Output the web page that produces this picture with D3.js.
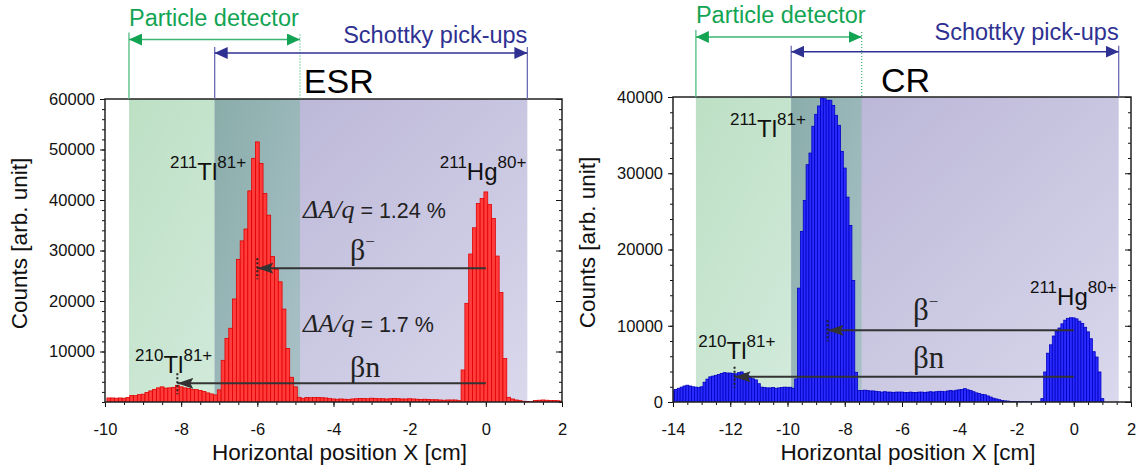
<!DOCTYPE html>
<html>
<head>
<meta charset="utf-8">
<script src="https://cdn.jsdelivr.net/npm/d3@7"></script>
<style>
body { margin: 0; background: #fff; }
svg text { font-family: "Liberation Sans", Arial, sans-serif; }
</style>
</head>
<body>
<div id="chart"></div>
<script>
// position spectra, 0.1 cm bins, counts
var binWidth = 0.1;

var esrFirstBin = -9.9;
var esrCounts = [
    800, 800, 750, 800, 750, 900, 1300, 1250, 1450, 1550,
    1900, 2200, 2500, 2800, 3000, 2750, 2800, 2900, 3300, 3000,
    2800, 2700, 2500, 2450, 2300, 2100, 1800, 1600, 1400, 2400,
    8250, 12600, 14600, 20400, 28250, 31900, 34250, 41800, 48250, 51500,
    47250, 41300, 37000, 28800, 26250, 23800, 18400, 10600, 4900, 3000,
    930, 730, 900, 850, 880, 900, 850, 800, 700, 600,
    550, 600, 550, 500, 600, 650, 700, 700, 650, 750,
    700, 650, 650, 600, 650, 700, 650, 600, 600, 650,
    600, 550, 500, 550, 500, 450, 450, 400, 350, 400,
    400, 400, 260, 6340, 19540, 29300, 34500, 39300, 40300, 41600,
    39100, 36350, 28900, 21700, 8600, 930, 600, 400, 260, 140,
    80, 60, 300, 350, 400, 350, 300, 300, 250, 150
];

var crFirstBin = -14.0;
var crCounts = [
    1500, 1650, 1800, 1950, 2100, 2200, 2100, 2000, 1950, 1900,
    2000, 2600, 3000, 3300, 3400, 3500, 3600, 3750, 3850, 3800,
    3800, 3750, 3700, 3850, 3950, 3700, 3500, 3200, 3050, 2900,
    2400, 1950, 1900, 1850, 1850, 1900, 1800, 1850, 1900, 1950,
    1930, 1930, 1800, 3020, 14930, 22370, 26440, 31120, 32650, 36160,
    37730, 38820, 39870, 39780, 39570, 39570, 38900, 37600, 36290, 32870,
    30680, 26870, 23160, 15940, 3900, 1500, 1500, 1550, 1500, 1450,
    1450, 1400, 1350, 1300, 1350, 1300, 1300, 1250, 1300, 1300,
    1300, 1250, 1250, 1300, 1250, 1250, 1300, 1300, 1250, 1300,
    1350, 1300, 1350, 1400, 1400, 1350, 1450, 1500, 1450, 1550,
    1600, 1650, 1750, 1600, 1500, 1350, 1200, 1100, 1000, 950,
    800, 650, 500, 400, 300, 200, 150, 120, 80, 60,
    40, 30, 30, 25, 25, 20, 20, 20, 30, 440,
    3940, 6400, 7500, 8650, 9250, 9700, 10250, 10730, 10970, 11050,
    11030, 10900, 10600, 10300, 9800, 9200, 8300, 6600, 5900, 3940,
    440
];

var esrXTicks = [-10, -8, -6, -4, -2, 0, 2];
var esrYTicks = [10000, 20000, 30000, 40000, 50000, 60000];
var crXTicks = [-14, -12, -10, -8, -6, -4, -2, 0, 2];
var crYTicks = [0, 10000, 20000, 30000, 40000];

// detector acceptance ranges [cm]
var esrDetector = [-9.37, -4.88];
var esrSchottky = [-7.12, 1.09];
var crDetector = [-13.2, -7.41];
var crSchottky = [-9.87, 1.57];

var svg = d3.select('#chart')
    .append('svg')
    .attr('width', 1142)
    .attr('height', 465);

var defs = svg.append('defs');

function addGradient(id, from, to) {
    var lg = defs.append('linearGradient').attr('id', id)
        .attr('x1', 0).attr('y1', 0).attr('x2', 1).attr('y2', 1);
    lg.append('stop').attr('offset', 0).attr('stop-color', from);
    lg.append('stop').attr('offset', 1).attr('stop-color', to);
}
addGradient('gradDetector', '#bde0c4', '#d8ede2');
addGradient('gradSchottky', '#b8b3d5', '#d9d8ec');
addGradient('gradBoth', '#8aadaa', '#a9c1c8');

function addMarker(id, color, len, h, notch) {
    defs.append('marker').attr('id', id)
        .attr('markerUnits', 'userSpaceOnUse')
        .attr('viewBox', '0 0 ' + len + ' ' + h)
        .attr('markerWidth', len).attr('markerHeight', h)
        .attr('refX', len).attr('refY', h / 2)
        .attr('orient', 'auto-start-reverse')
        .append('path')
        .attr('d', 'M0,0 L' + len + ',' + (h / 2) + ' L0,' + h + ' L' + notch + ',' + (h / 2) + ' Z')
        .attr('fill', color);
}
addMarker('headGreen', '#12a453', 13, 12, 0);
addMarker('headNavy', '#2e3192', 13, 12, 0);
addMarker('headDark', '#333', 16, 11, 3);

var green = '#12a453';
var navy = '#2e3192';
var serif = '"Liberation Serif", "Times New Roman", serif';

function isotope(g, px, py, mass, sym, charge) {
    var t = g.append('text').attr('x', px).attr('y', py).attr('fill', '#111');
    t.append('tspan').attr('font-size', 17).attr('dy', -12).text(mass);
    t.append('tspan').attr('font-size', 24).attr('dy', 12).text(sym);
    t.append('tspan').attr('font-size', 17).attr('dy', -12).text(charge);
}

function beta(g, px, py, size, suffix) {
    var t = g.append('text').attr('x', px).attr('y', py)
        .attr('font-size', size).attr('fill', '#222')
        .style('font-family', serif);
    t.append('tspan').text('β');
    if (suffix === '-') {
        t.append('tspan').attr('font-size', 17).attr('dy', -13).text('−');
    } else {
        t.append('tspan').text(suffix);
    }
}

function deltaLabel(g, px, py, value) {
    var t = g.append('text').attr('x', px).attr('y', py)
        .attr('font-size', 21.5).attr('fill', '#222').style('white-space', 'pre');
    t.append('tspan')
        .style('font-family', serif)
        .attr('font-style', 'italic').attr('font-size', 26).text('ΔA/q');
    t.append('tspan').text(' = ' + value + ' %');
}

function drawPanel(p) {
    var x = d3.scaleLinear().domain(p.xDomain).range([p.left, p.right]);
    var y = d3.scaleLinear().domain(p.yDomain).range([p.bottom, p.top]);
    var h = p.bottom - p.top;

    defs.append('clipPath').attr('id', 'clip-' + p.name)
        .append('rect').attr('x', p.left).attr('y', p.top)
        .attr('width', p.right - p.left).attr('height', h);

    var g = svg.append('g');
    var plot = g.append('g').attr('clip-path', 'url(#clip-' + p.name + ')');

    // shaded acceptance regions
    plot.append('rect')
        .attr('x', x(p.detector[0])).attr('width', x(p.detector[1]) - x(p.detector[0]))
        .attr('y', p.top).attr('height', h).attr('fill', 'url(#gradDetector)');
    plot.append('rect')
        .attr('x', x(p.schottky[0])).attr('width', x(p.schottky[1]) - x(p.schottky[0]))
        .attr('y', p.top).attr('height', h).attr('fill', 'url(#gradSchottky)');
    plot.append('rect')
        .attr('x', x(p.schottky[0])).attr('width', x(p.detector[1]) - x(p.schottky[0]))
        .attr('y', p.top).attr('height', h).attr('fill', 'url(#gradBoth)');

    // histogram
    var bins = p.counts.map((c, i) => ({ x: p.firstBin + i * binWidth, c: c }));
    plot.selectAll('rect.bar')
        .data(bins)
        .enter()
        .append('rect')
        .attr('class', 'bar')
        .attr('x', (d) => x(d.x - binWidth / 2))
        .attr('width', x(binWidth) - x(0))
        .attr('y', (d) => y(d.c))
        .attr('height', (d) => y(0) - y(d.c))
        .attr('fill', p.fill)
        .attr('stroke', p.stroke)
        .attr('stroke-width', 0.8);

    // axes
    var fmt = (d) => String(d);
    var xMinor = g.append('g').attr('transform', 'translate(0,' + p.bottom + ')')
        .call(d3.axisBottom(x).ticks(p.xMinor).tickSize(3).tickFormat(''));
    var xMajor = g.append('g').attr('transform', 'translate(0,' + p.bottom + ')')
        .call(d3.axisBottom(x).tickValues(p.xTicks).tickSize(5).tickPadding(16).tickFormat(fmt));
    var yMinor = g.append('g').attr('transform', 'translate(' + p.left + ',0)')
        .call(d3.axisLeft(y).ticks(p.yMinor).tickSize(3).tickFormat(''));
    var yMajor = g.append('g').attr('transform', 'translate(' + p.left + ',0)')
        .call(d3.axisLeft(y).tickValues(p.yTicks).tickSize(5).tickPadding(5).tickFormat(fmt));
    var rMinor = g.append('g').attr('transform', 'translate(' + p.right + ',0)')
        .call(d3.axisLeft(y).ticks(p.yMinor).tickSize(3).tickFormat(''));
    var rMajor = g.append('g').attr('transform', 'translate(' + p.right + ',0)')
        .call(d3.axisLeft(y).tickValues(p.yTicks).tickSize(6).tickFormat(''));

    [xMinor, xMajor, yMinor, yMajor, rMinor, rMajor].forEach((a) => {
        a.select('.domain').remove();
        a.selectAll('line').attr('stroke', '#111');
        a.selectAll('text').attr('font-size', 16.5).attr('fill', '#111')
            .attr('font-family', '"Liberation Sans", Arial, sans-serif');
    });

    g.append('rect')
        .attr('x', p.left).attr('y', p.top)
        .attr('width', p.right - p.left).attr('height', h)
        .attr('fill', 'none').attr('stroke', '#222').attr('stroke-width', 1.5);

    // axis titles
    g.append('text')
        .attr('transform', 'translate(' + (p.left - 78) + ',' + (p.top + h / 2 - 7) + ') rotate(-90)')
        .attr('text-anchor', 'middle').attr('font-size', 22.5).attr('fill', '#111')
        .text('Counts [arb. unit]');
    g.append('text')
        .attr('x', (p.left + p.right) / 2 + 6).attr('y', 460)
        .attr('text-anchor', 'middle').attr('font-size', 22.5).attr('fill', '#111')
        .text('Horizontal position X [cm]');

    // acceptance markers above the frame
    var d0 = x(p.detector[0]), d1 = x(p.detector[1]);
    var s0 = x(p.schottky[0]), s1 = x(p.schottky[1]);
    g.append('line').attr('x1', d0).attr('x2', d0).attr('y1', p.detArrowY - 7).attr('y2', p.top)
        .attr('stroke', '#4dbb7c').attr('stroke-width', 1.3);
    g.append('line').attr('x1', d1).attr('x2', d1).attr('y1', p.detArrowY - 5).attr('y2', p.top)
        .attr('stroke', '#4dbb7c').attr('stroke-width', 1.3).attr('stroke-dasharray', '1,2');
    g.append('line').attr('x1', d0).attr('x2', d1).attr('y1', p.detArrowY).attr('y2', p.detArrowY)
        .attr('stroke', '#3cb574').attr('stroke-width', 1.5)
        .attr('marker-start', 'url(#headGreen)').attr('marker-end', 'url(#headGreen)');
    g.append('text').attr('x', d0).attr('y', p.detTextY)
        .attr('font-size', 23.5).attr('fill', green).text('Particle detector');

    [s0, s1].forEach((sx) => {
        g.append('line').attr('x1', sx).attr('x2', sx).attr('y1', p.schArrowY - 6).attr('y2', p.top)
            .attr('stroke', '#6b6bb3').attr('stroke-width', 1.3);
    });
    g.append('line').attr('x1', s0).attr('x2', s1).attr('y1', p.schArrowY).attr('y2', p.schArrowY)
        .attr('stroke', navy).attr('stroke-width', 1.5)
        .attr('marker-start', 'url(#headNavy)').attr('marker-end', 'url(#headNavy)');
    g.append('text').attr('x', s1).attr('y', p.schTextY).attr('text-anchor', 'end')
        .attr('font-size', 23.5).attr('fill', navy).text('Schottky pick-ups');

    g.append('text').attr('x', x(p.titleAt)).attr('y', p.titleY)
        .attr('text-anchor', 'middle').attr('font-size', 34).attr('fill', '#000')
        .text(p.name);

    // decay arrows
    p.arrows.forEach((a) => {
        g.append('line').attr('x1', x(0)).attr('x2', x(a.to))
            .attr('y1', y(a.level)).attr('y2', y(a.level))
            .attr('stroke', '#333').attr('stroke-width', 2)
            .attr('marker-end', 'url(#headDark)');
        g.append('line').attr('x1', x(a.to)).attr('x2', x(a.to))
            .attr('y1', y(a.level) - 10).attr('y2', y(a.level) + 11)
            .attr('stroke', '#222').attr('stroke-width', 2).attr('stroke-dasharray', '2,2');
    });

    p.isotopes.forEach((s) => isotope(g, x(s.at[0]), y(s.at[1]), s.mass, s.sym, s.charge));
    p.betas.forEach((b) => beta(g, x(b.at[0]), y(b.at[1]), p.betaSize, b.kind));
    p.deltas.forEach((d) => deltaLabel(g, x(d.at[0]), y(d.at[1]), d.value));
}

drawPanel({
    name: 'ESR',
    left: 105, right: 562, top: 99, bottom: 402,
    xDomain: [-10, 2], yDomain: [0, 60000],
    xTicks: esrXTicks, yTicks: esrYTicks, xMinor: 24, yMinor: 30,
    firstBin: esrFirstBin, counts: esrCounts,
    fill: '#ff3c3c', stroke: '#e00000',
    detector: esrDetector, schottky: esrSchottky,
    detArrowY: 39.5, detTextY: 25.5, schArrowY: 53, schTextY: 43,
    titleAt: -3.86, titleY: 93,
    arrows: [{ to: -6.0, level: 26500 }, { to: -8.1, level: 3700 }],
    isotopes: [
        { at: [-8.29, 44000], mass: '211', sym: 'Tl', charge: '81+' },
        { at: [-1.21, 44000], mass: '211', sym: 'Hg', charge: '80+' },
        { at: [-9.21, 5800], mass: '210', sym: 'Tl', charge: '81+' }
    ],
    betaSize: 30,
    betas: [{ at: [-3.57, 28100], kind: '-' }, { at: [-3.57, 4950], kind: 'n' }],
    deltas: [{ at: [-4.8, 36400], value: '1.24' }, { at: [-4.8, 13900], value: '1.7' }]
});

drawPanel({
    name: 'CR',
    left: 673, right: 1131, top: 97, bottom: 402,
    xDomain: [-14, 2], yDomain: [0, 40000],
    xTicks: crXTicks, yTicks: crYTicks, xMinor: 32, yMinor: 20,
    firstBin: crFirstBin, counts: crCounts,
    fill: '#2b2bff', stroke: '#0000c0',
    detector: crDetector, schottky: crSchottky,
    detArrowY: 37, detTextY: 22.7, schArrowY: 51.7, schTextY: 40.3,
    titleAt: -5.88, titleY: 91.7,
    arrows: [{ to: -8.6, level: 9400 }, { to: -11.85, level: 3300 }],
    isotopes: [
        { at: [-12.01, 34800], mass: '211', sym: 'Tl', charge: '81+' },
        { at: [-1.53, 12700], mass: '211', sym: 'Hg', charge: '80+' },
        { at: [-13.12, 5700], mass: '210', sym: 'Tl', charge: '81+' }
    ],
    betaSize: 31,
    betas: [{ at: [-5.62, 10800], kind: '-' }, { at: [-5.62, 4420], kind: 'n' }],
    deltas: []
});
</script>
</body>
</html>
